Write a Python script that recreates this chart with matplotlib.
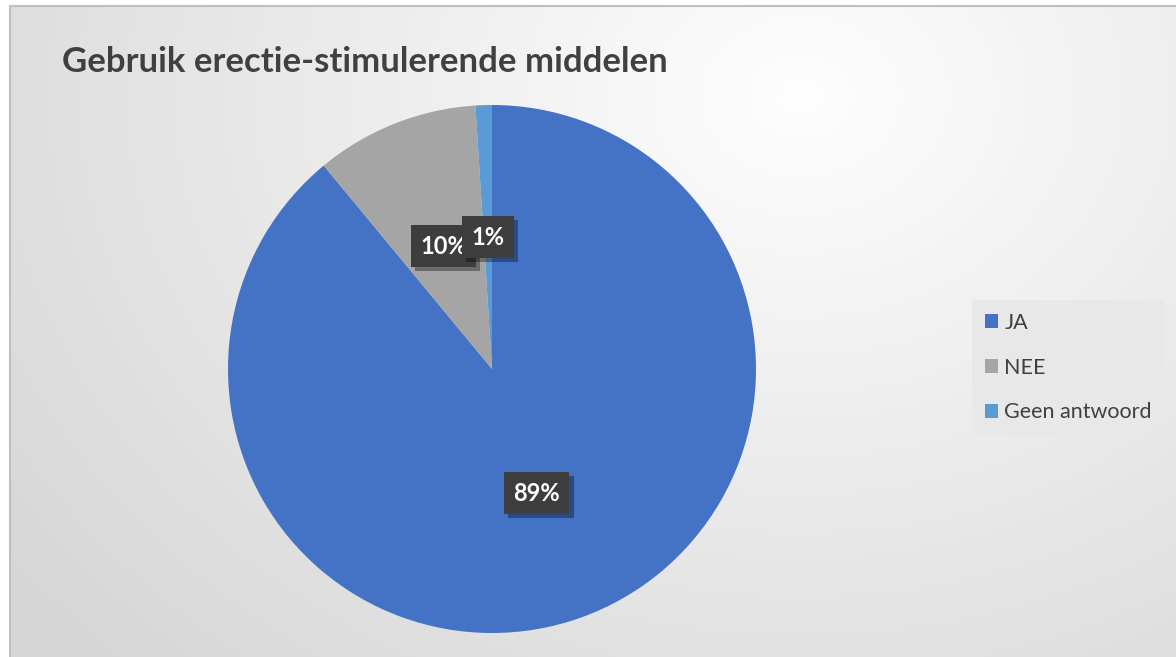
import numpy as np
import matplotlib.pyplot as plt
import matplotlib.patheffects as pe

labels = ['JA', 'NEE', 'Geen antwoord']
values = [89, 10, 1]
colors = ['#4472C4', '#A5A5A5', '#5B9BD5']
title = 'Gebruik erectie-stimulerende middelen'

W, H = 1176, 657
fig = plt.figure(figsize=(W / 100, H / 100), dpi=100)
fig.patch.set_facecolor('white')

# chart area background: soft radial gradient, light near the top right
bg = fig.add_axes([10 / W, 0, 1 - 10 / W, 1 - 6 / H])
yy, xx = np.mgrid[0:H - 6, 0:W - 10]
d = np.sqrt(((xx - 790) / 1.0) ** 2 + ((yy - 90) / 0.8) ** 2)
shade = 254 - 40 * np.clip(d / 1000, 0, 1)
img = np.dstack([shade, shade, shade]) / 255
bg.imshow(img, aspect='auto', extent=[0, 1, 0, 1], origin='upper')
bg.set_xlim(0, 1)
bg.set_ylim(0, 1)
bg.set_xticks([])
bg.set_yticks([])
for s in ['right', 'bottom']:
    bg.spines[s].set_visible(False)
for s in ['left', 'top']:
    bg.spines[s].set_color('#bfbfbf')
    bg.spines[s].set_linewidth(1.5)

# pie axes: center (492, 369), radius 264 px
cx, cy, r = 492, 369, 264
ax = fig.add_axes([(cx - r) / W, (H - cy - r) / H, 2 * r / W, 2 * r / H])
ax.set_facecolor('none')
wedges, texts, autotexts = ax.pie(
    values, colors=colors, startangle=90, counterclock=False,
    autopct='%d%%', pctdistance=0.5, radius=1,
    wedgeprops=dict(linewidth=0),
    textprops=dict(color='white', fontsize=17, fontweight='bold', family='Lato'))
ax.set_xlim(-1, 1)
ax.set_ylim(-1, 1)
ax.set_aspect('auto')

for t in autotexts:
    t.set_bbox(dict(boxstyle='square,pad=0.4', facecolor='#3d3d3d', edgecolor='none'))
    t.get_bbox_patch().set_path_effects([
        pe.SimplePatchShadow(offset=(3, -3), shadow_rgbFace='black', alpha=0.35),
        pe.Normal()])
autotexts[2].set_zorder(autotexts[1].get_zorder() + 1)

fig.text(62 / W, 1 - 62 / H, title, fontsize=25, fontweight='bold',
         color='#404040', family='Lato', va='center', ha='left')

leg = fig.legend(wedges, labels, loc='upper left',
                 bbox_to_anchor=(972 / W, 1 - 300 / H),
                 frameon=True, fancybox=False,
                 prop=dict(family='Lato', size=15.5),
                 handlelength=0.6, handleheight=0.6, handletextpad=0.3,
                 labelspacing=1.15, borderpad=0.6, borderaxespad=0)
leg.get_frame().set_facecolor('#e8e8e8')
leg.get_frame().set_edgecolor('none')
leg.get_frame().set_alpha(0.9)
for t in leg.get_texts():
    t.set_color('#404040')

fig.savefig('out.png', dpi=100)
